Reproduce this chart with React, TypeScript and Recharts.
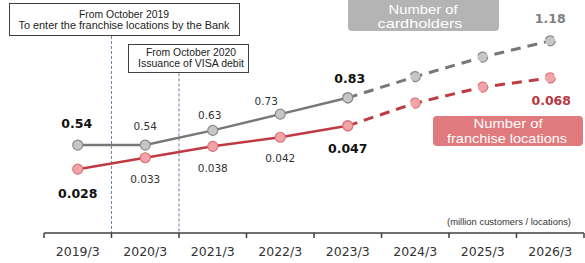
import React from 'react';
import { LineChart, Line, XAxis, YAxis, ReferenceLine, Customized } from 'recharts';

const categories = ['2019/3', '2020/3', '2021/3', '2022/3', '2023/3', '2024/3', '2025/3', '2026/3'];
const cardholders = [0.54, 0.54, 0.63, 0.73, 0.83, 0.96, 1.08, 1.18];
const franchise = [0.028, 0.033, 0.038, 0.042, 0.047, 0.057, 0.064, 0.068];
const cardholderLabels = ['0.54', '0.54', '0.63', '0.73', '0.83', '', '', '1.18'];
const franchiseLabels = ['0.028', '0.033', '0.038', '0.042', '0.047', '', '', '0.068'];
const lastActual = 4; // 2023/3, forecast after that

const data = categories.map((c, i) => ({
  x: i + 0.5,
  name: c,
  cardActual: i <= lastActual ? cardholders[i] : null,
  cardForecast: i >= lastActual ? cardholders[i] : null,
  frActual: i <= lastActual ? franchise[i] : null,
  frForecast: i >= lastActual ? franchise[i] : null,
}));

const W = 585;
const H = 263;
const LEFT = 44;
const RIGHT = 1;
const BAND = (W - LEFT - RIGHT) / categories.length;

const GRAY = '#777777';
const RED = '#bf3a42';
const FONT = '"DejaVu Sans", Verdana, sans-serif';
const BOX_FONT = '"Liberation Sans", Arial, sans-serif';

// label placement relative to the point: [dx, dy, bold, colour]
const grayLabelPos: Record<number, [number, number, boolean, string]> = {
  0: [-1, -22, true, '#111'],
  1: [0, -19, false, '#333'],
  2: [-3, -15, false, '#333'],
  3: [-14, -13, false, '#333'],
  4: [2, -19, true, '#111'],
  7: [0, -22, true, '#808080'],
};
const redLabelPos: Record<number, [number, number, boolean, string]> = {
  0: [0, 24, true, '#111'],
  1: [0, 21, false, '#333'],
  2: [0, 22, false, '#333'],
  3: [0, 21, false, '#333'],
  4: [0, 23, true, '#111'],
  7: [1, 23, true, '#b8383e'],
};

const makeLabel = (texts: string[], pos: Record<number, [number, number, boolean, string]>, only: number[]) =>
  (props: any) => {
    const { x, y, index } = props;
    if (!only.includes(index) || !pos[index] || x == null || y == null) return null;
    const [dx, dy, bold, color] = pos[index];
    return (
      <text
        key={`l${index}`}
        x={x + dx}
        y={y + dy}
        textAnchor="middle"
        dominantBaseline="central"
        fontFamily={FONT}
        fontSize={bold ? 12.5 : 10.5}
        fontWeight={bold ? 'bold' : 'normal'}
        fill={color}
      >
        {texts[index]}
      </text>
    );
  };

const Tick = (props: any) => {
  const { x, y, payload } = props;
  const i = Math.round(payload.value);
  if (i >= categories.length) return null;
  return (
    <text x={x + BAND / 2} y={y + 16} textAnchor="middle" fontFamily={FONT} fontSize={12.5} fill="#333">
      {categories[i]}
    </text>
  );
};

const Annotations = () => (
  <g>
    <rect x={9.5} y={3.5} width={230} height={32} fill="#fff" stroke="#404040" strokeWidth={1} />
    <text x={124} y={17.5} textAnchor="middle" fontFamily={BOX_FONT} fontSize={10.5} fill="#222" textLength={90} lengthAdjust="spacingAndGlyphs">
      From October 2019
    </text>
    <text x={124} y={29} textAnchor="middle" fontFamily={BOX_FONT} fontSize={10.5} fill="#222" textLength={211} lengthAdjust="spacingAndGlyphs">
      To enter the franchise locations by the Bank
    </text>
    <rect x={128.5} y={44.5} width={120} height={28} fill="#fff" stroke="#404040" strokeWidth={1} />
    <text x={191} y={55.5} textAnchor="middle" fontFamily={BOX_FONT} fontSize={10.5} fill="#222" textLength={90} lengthAdjust="spacingAndGlyphs">
      From October 2020
    </text>
    <text x={191} y={67} textAnchor="middle" fontFamily={BOX_FONT} fontSize={10.5} fill="#222" textLength={106} lengthAdjust="spacingAndGlyphs">
      Issuance of VISA debit
    </text>

    <rect x={348} y={-3} width={151} height={34} rx={4} fill="#b4b4b4" />
    <text x={423} y={14} textAnchor="middle" fontFamily={BOX_FONT} fontSize={13.5} fill="#fff" textLength={69} lengthAdjust="spacingAndGlyphs">
      Number of
    </text>
    <text x={420} y={28} textAnchor="middle" fontFamily={BOX_FONT} fontSize={13.5} fill="#fff" textLength={85} lengthAdjust="spacingAndGlyphs">
      cardholders
    </text>

    <rect x={433} y={116} width={150} height={30} rx={4} fill="#e17a7e" />
    <text x={508} y={128} textAnchor="middle" fontFamily={BOX_FONT} fontSize={13.5} fill="#fff" textLength={69} lengthAdjust="spacingAndGlyphs">
      Number of
    </text>
    <text x={507} y={143} textAnchor="middle" fontFamily={BOX_FONT} fontSize={13.5} fill="#fff" textLength={120} lengthAdjust="spacingAndGlyphs">
      franchise locations
    </text>

    <text x={509} y={225} textAnchor="middle" fontFamily={BOX_FONT} fontSize={9} fill="#333" textLength={124} lengthAdjust="spacingAndGlyphs">
      (million customers / locations)
    </text>
  </g>
);

const grayDot = { r: 5, fill: '#c6c6c6', stroke: '#8a8a8a', strokeWidth: 1.2 };
const redDot = { r: 5, fill: '#f2a4a8', stroke: '#dc7279', strokeWidth: 1.2 };

export default function App() {
  return (
    <div style={{ position: 'absolute', left: 0, top: 0, width: W, height: H, background: '#fff' }}>
      <LineChart width={W} height={H} data={data} margin={{ top: 5, right: RIGHT, bottom: 0, left: LEFT }}>
        <XAxis
          dataKey="x"
          type="number"
          domain={[0, categories.length]}
          ticks={categories.map((_, i) => i).concat([categories.length])}
          interval={0}
          height={30}
          tickSize={5}
          axisLine={{ stroke: '#404040', strokeWidth: 1.5 }}
          tickLine={{ stroke: '#404040', strokeWidth: 1.5 }}
          tick={<Tick />}
        />
        <YAxis yAxisId="left" hide width={0} domain={[0, 1.4]} />
        <YAxis yAxisId="right" hide width={0} domain={[0, 0.1]} orientation="right" />
        <ReferenceLine
          yAxisId="left"
          segment={[{ x: 1, y: 1.21 }, { x: 1, y: 0 }]}
          stroke="#6a80a0"
          strokeDasharray="3 2"
          strokeWidth={1}
        />
        <ReferenceLine
          yAxisId="left"
          segment={[{ x: 2, y: 0.98 }, { x: 2, y: 0 }]}
          stroke="#6a80a0"
          strokeDasharray="3 2"
          strokeWidth={1}
        />
        <Line yAxisId="left" dataKey="cardForecast" stroke={GRAY} strokeWidth={3} strokeDasharray="10 7"
          dot={grayDot} isAnimationActive={false} connectNulls={false}
          label={makeLabel(cardholderLabels, grayLabelPos, [7])} />
        <Line yAxisId="left" dataKey="cardActual" stroke={GRAY} strokeWidth={2.5}
          dot={grayDot} isAnimationActive={false}
          label={makeLabel(cardholderLabels, grayLabelPos, [0, 1, 2, 3, 4])} />
        <Line yAxisId="right" dataKey="frForecast" stroke={RED} strokeWidth={3} strokeDasharray="10 7"
          dot={redDot} isAnimationActive={false}
          label={makeLabel(franchiseLabels, redLabelPos, [7])} />
        <Line yAxisId="right" dataKey="frActual" stroke={RED} strokeWidth={2.5}
          dot={redDot} isAnimationActive={false}
          label={makeLabel(franchiseLabels, redLabelPos, [0, 1, 2, 3, 4])} />
        <Customized component={Annotations} />
      </LineChart>
    </div>
  );
}
